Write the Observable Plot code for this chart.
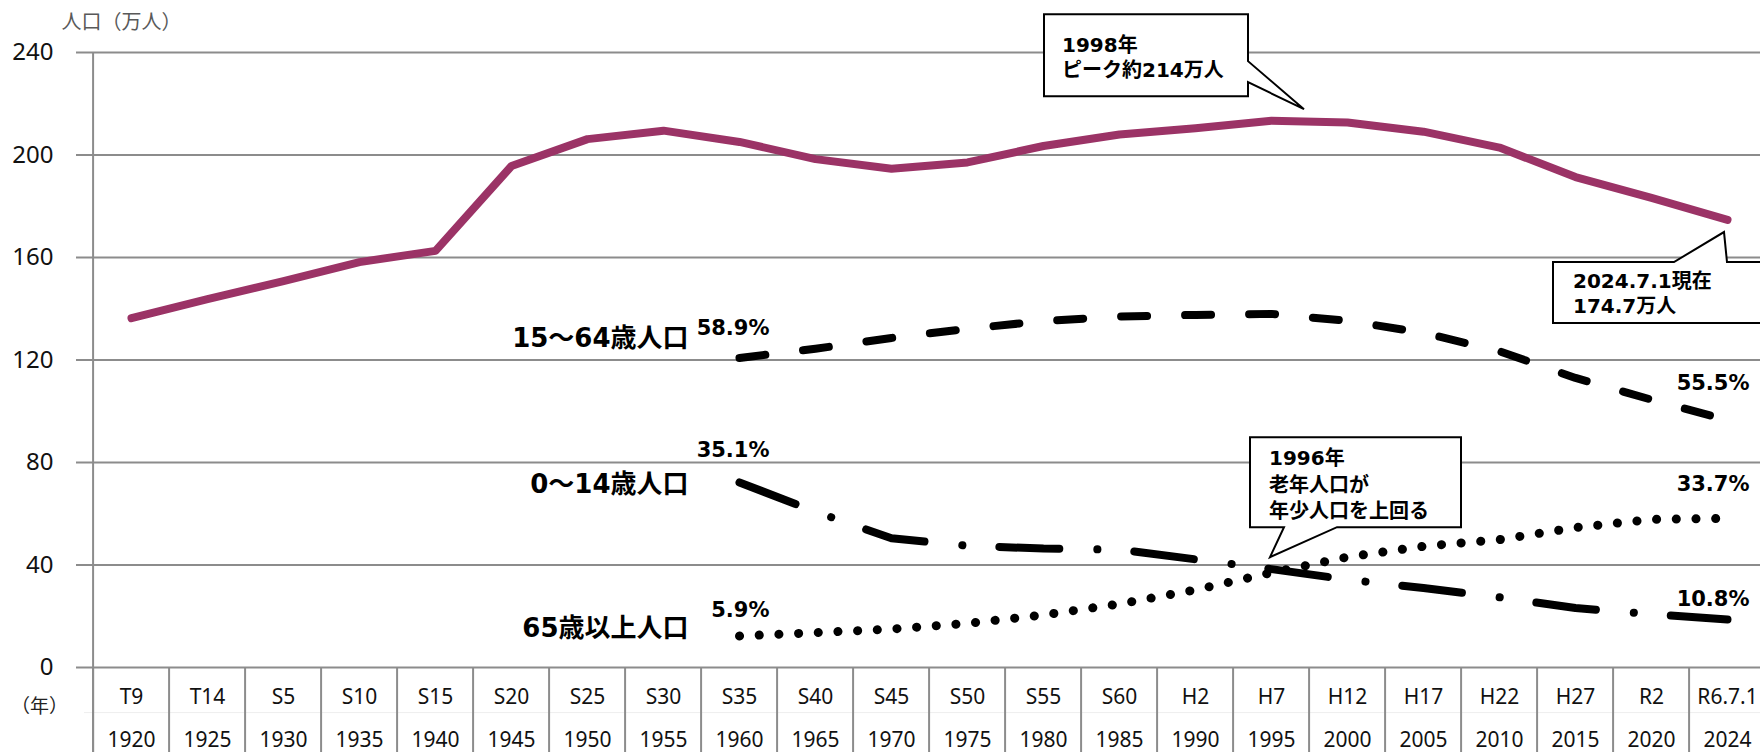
<!DOCTYPE html>
<html><head><meta charset="utf-8">
<script src="https://cdn.jsdelivr.net/npm/d3@7"></script>
<script src="https://cdn.jsdelivr.net/npm/@observablehq/plot@0.6"></script>
<style>
html,body{margin:0;padding:0;background:#fff;overflow:hidden;width:1760px;height:752px}
#chart svg{display:block;overflow:hidden}
</style></head><body><div id="chart"></div>
<script>
// ---- data ----
const categories = ["T9","T14","S5","S10","S15","S20","S25","S30","S35","S40","S45","S50","S55","S60","H2","H7","H12","H17","H22","H27","R2","R6.7.1"];
const years = ["1920","1925","1930","1935","1940","1945","1950","1955","1960","1965","1970","1975","1980","1985","1990","1995","2000","2005","2010","2015","2020","2024"];
const total = [136.3,143.8,150.8,158.2,162.6,195.7,206.2,209.5,205.1,198.4,194.6,197.1,203.5,208.0,210.4,213.4,212.7,209.1,202.9,191.4,183.3,174.7];
const ageCategories = ["S35","S40","S45","S50","S55","S60","H2","H7","H12","H17","H22","H27","R2","R6.7.1"];
const working = [120.8,124.4,128.6,132.2,135.2,137.0,137.6,138.0,135.3,130.6,123.4,113.0,104.5,96.5];
const young = [72.2,60.8,50.4,47.5,46.4,46.0,42.2,38.4,34.3,31.0,27.4,23.2,20.8,18.7];
const elderly = [12.3,13.6,15.0,17.2,20.5,24.8,30.3,37.0,43.1,47.3,49.9,54.6,57.8,58.2];
const yTicks = [0,40,80,120,160,200,240];
const seriesNames = ["15～64歳人口","0～14歳人口","65歳以上人口"];
const startShares = ["58.9%","35.1%","5.9%"];
const endShares = ["55.5%","10.8%","33.7%"];
const yLabel = "人口（万人）";
const xUnit = "（年）";
const callouts = [
  {cat:"H7", value:213.4, lines:["1998年","ピーク約214万人"]},
  {cat:"R6.7.1", value:174.7, lines:["2024.7.1現在","174.7万人"]},
  {cat:"H7", value:37.0, lines:["1996年","老年人口が","年少人口を上回る"]}
];

// ---- tables ----
const totalRows = categories.map((c,i)=>({cat:c, year:years[i], v:total[i]}));
const workRows = ageCategories.map((c,i)=>({cat:c, v:working[i]}));
const youngRows = ageCategories.map((c,i)=>({cat:c, v:young[i]}));
const oldRows = ageCategories.map((c,i)=>({cat:c, v:elderly[i]}));
const seriesRows = [workRows, youngRows, oldRows];

const X0 = 84, X1 = 1774;
const bw = (X1 - X0) / categories.length;
const grid = "#8c8c8c";
const boldFont = "'DejaVu Sans','Noto Sans CJK JP',sans-serif";
const axisFont = "'Noto Sans','Noto Sans CJK JP',sans-serif";

// label offsets (pixels) relative to the first / last point of each age series
const nameDy = [-10.5, 11, 1.5];
const startDy = [-22.5, -25, -18.5];
const endDy = [-30.5, -14, -27];

const labelMarks = [];
seriesRows.forEach((rows, i) => {
  const first = rows[0], last = rows[rows.length-1];
  labelMarks.push(Plot.text([first], {x:"cat", y:"v", text:()=>seriesNames[i], dx:-51, dy:nameDy[i], lineAnchor:"bottom", textAnchor:"end", fontSize:26, fontWeight:"bold", fontFamily:boldFont, fill:"#000"}));
  labelMarks.push(Plot.text([first], {x:"cat", y:"v", text:()=>startShares[i], dx:30, dy:startDy[i], lineAnchor:"bottom", textAnchor:"end", fontSize:21, fontWeight:"bold", fontFamily:boldFont, fill:"#000"}));
  labelMarks.push(Plot.text([last], {x:"cat", y:"v", text:()=>endShares[i], dx:22, dy:endDy[i], lineAnchor:"bottom", textAnchor:"end", fontSize:21, fontWeight:"bold", fontFamily:boldFont, fill:"#000"}));
});

const plot = Plot.plot({
  width: 1760, height: 752,
  marginTop: 52, marginBottom: 85, marginLeft: X0, marginRight: 0,
  x: {type:"band", domain: categories, range:[X0, X1], padding:0, axis:null},
  y: {domain:[0,240], range:[667,52], axis:null},
  marks: [
    Plot.ruleY([-17.6], {stroke:"#eeeeee", strokeWidth:1}),
    Plot.ruleY(yTicks, {stroke:grid, strokeWidth:2, insetLeft:-8}),
    Plot.ruleX(categories, {x:d=>d, y1:-34, y2:0, dx:-bw/2, stroke:grid, strokeWidth:2}),
    Plot.ruleX([categories[0]], {x:d=>d, y1:-34, y2:240, dx:-bw/2, stroke:grid, strokeWidth:2}),
    Plot.text(yTicks, {y:d=>d, frameAnchor:"left", dx:-31, textAnchor:"end", text:d=>String(d), fontSize:24, fontFamily:axisFont, fill:"#111"}),
    Plot.text(categories, {x:d=>d, y:0, dy:30, text:d=>d, fontSize:21, fontFamily:axisFont, fill:"#111"}),
    Plot.text(years, {x:(d,i)=>categories[i], y:0, dy:73, text:d=>d, fontSize:21, fontFamily:axisFont, fill:"#111"}),
    Plot.text([xUnit], {frameAnchor:"bottom-left", dx:-45, dy:45, textAnchor:"middle", text:d=>d, fontSize:19, fontFamily:axisFont, fill:"#222", style:"font-feature-settings:'palt'"}),
    Plot.text([yLabel], {frameAnchor:"top-left", dx:-23, dy:-30, textAnchor:"start", lineAnchor:"middle", text:d=>d, fontSize:20, fontFamily:axisFont, fill:"#595959"}),
    // lines
    Plot.line(totalRows, {x:"cat", y:"v", stroke:"#9B3366", strokeWidth:8, strokeLinejoin:"round", strokeLinecap:"round"}),
    Plot.line(workRows, {x:"cat", y:"v", stroke:"#000", strokeWidth:8, strokeDasharray:"26,38", strokeLinecap:"round", strokeLinejoin:"round"}),
    Plot.line(youngRows, {x:"cat", y:"v", stroke:"#000", strokeWidth:8, strokeDasharray:"60,38,0.1,37", strokeLinecap:"round", strokeLinejoin:"round"}),
    Plot.line(oldRows, {x:"cat", y:"v", stroke:"#000", strokeWidth:9, strokeDasharray:"0.1,19.6", strokeLinecap:"round", strokeLinejoin:"round"}),
    ...labelMarks
  ]
});
document.getElementById("chart").appendChild(plot);

// ---- callouts anchored on scale positions ----
const sx = plot.scale("x"), sy = plot.scale("y");
const cx = c => sx.apply(c) + sx.bandwidth/2;
const svg = d3.select(plot);
const g = svg.append("g").attr("text-anchor","start");
function drawCallout(c, tipDx, tipDy, pathFn, textPos) {
  const tx = cx(c.cat) + tipDx, ty = sy.apply(c.value) + tipDy;
  g.append("path").attr("d", pathFn(tx, ty)).attr("fill","#fff").attr("stroke","#000").attr("stroke-width",2).attr("stroke-linejoin","miter");
  c.lines.forEach((t,i)=>{
    g.append("text").attr("x", tx + textPos[0]).attr("y", ty + textPos[1] + i*textPos[2])
      .attr("text-anchor","start")
      .attr("font-family", boldFont).attr("font-weight","bold").attr("font-size",20).attr("fill","#000").text(t);
  });
}
drawCallout(callouts[0], 33, -11,
  (x,y)=>`M${x-260},${y-95}H${x-56}V${y-48}L${x},${y}L${x-56},${y-27}V${y-13}H${x-260}Z`,
  [-242, -57, 25]);
drawCallout(callouts[1], -3, 12.7,
  (x,y)=>`M${x-171},${y+30}H${x-50}L${x},${y}L${x+3},${y+30}H${x+80}V${y+91}H${x-171}Z`,
  [-151, 56, 25]);
drawCallout(callouts[2], -1, -15,
  (x,y)=>`M${x-20},${y-120}H${x+191}V${y-30}H${x+67}L${x},${y}L${x+14},${y-30}H${x-20}Z`,
  [-1, -92, 26.5]);
</script></body></html>
